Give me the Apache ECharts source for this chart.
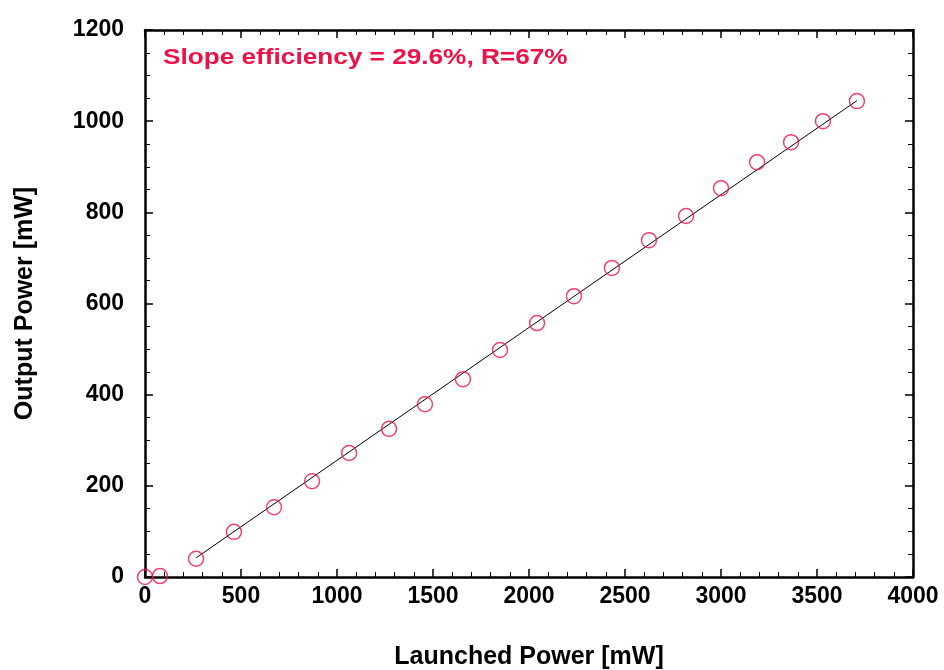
<!DOCTYPE html>
<html><head><meta charset="utf-8">
<script src="https://cdn.jsdelivr.net/npm/echarts@6/dist/echarts.min.js"></script>
<style>html,body{margin:0;padding:0;background:#fff}#c{width:944px;height:670px}</style>
</head><body><div id="c"></div>
<script>
const launched = [0, 78, 266, 463, 672, 870, 1063, 1271, 1458, 1656, 1849, 2042, 2234, 2432, 2625, 2818, 3000, 3188, 3365, 3531, 3708];
const output   = [0, 2, 40, 99, 153, 210, 272, 325, 379, 434, 498, 557, 616, 678, 739, 792, 853, 910, 954, 1000, 1044];
const fitX = [266, 3708];
const fitY = [42, 1045];
const xTicks = [0, 500, 1000, 1500, 2000, 2500, 3000, 3500, 4000];
const yTicks = [0, 200, 400, 600, 800, 1000, 1200];
const annotation = 'Slope efficiency = 29.6%, R=67%';

const F = '"Liberation Sans", Arial, sans-serif';
const red = '#ee1148';
const axisLine = {show:true, onZero:false, lineStyle:{color:'#000', width:2.5}};
const chart = echarts.init(document.getElementById('c'));
function xa(pos, labels){
  return {type:'value', position:pos, min:xTicks[0], max:xTicks[xTicks.length-1], interval:500,
    axisLine, axisTick:{show:true, inside:true, length:8, lineStyle:{color:'#000', width:1.5}},
    minorTick:{show:true, splitNumber:5, length:5, lineStyle:{color:'#000', width:1}},
    splitLine:{show:false},
    axisLabel:{show:labels, color:'#000', fontFamily:F, fontWeight:'bold', fontSize:23, margin:8, formatter:v=>String(v)},
    name: labels ? 'Launched Power [mW]' : '', nameLocation:'middle', nameGap:68,
    nameTextStyle:{color:'#000', fontFamily:F, fontWeight:'bold', fontSize:25}};
}
function ya(pos, labels){
  return {type:'value', position:pos, min:yTicks[0], max:yTicks[yTicks.length-1], interval:200,
    axisLine, axisTick:{show:true, inside:true, length:8, lineStyle:{color:'#000', width:1.5}},
    minorTick:{show:true, splitNumber:4, length:5, lineStyle:{color:'#000', width:1}},
    splitLine:{show:false},
    axisLabel:{show:labels, color:'#000', fontFamily:F, fontWeight:'bold', fontSize:23, margin:21, formatter:v=>String(v)},
    name: labels ? 'Output Power [mW]' : '', nameLocation:'middle', nameGap:107, nameRotate:90,
    nameTextStyle:{color:'#000', fontFamily:F, fontWeight:'bold', fontSize:25}};
}
chart.setOption({
  animation:false,
  backgroundColor:'#fff',
  grid:{left:145, right:31, top:30, bottom:93, outerBoundsMode:'none', containLabel:false},
  xAxis:[xa('bottom', true), xa('top', false)],
  yAxis:[ya('left', true), ya('right', false)],
  graphic:[{type:'text', x:163, y:47, scaleX:1.19, style:{text:annotation, fill:red, font:'bold 22px "Liberation Sans", Arial, sans-serif'}}],
  series:[
    {type:'line', data:fitX.map((x,i)=>[x, fitY[i]]), symbol:'none', lineStyle:{color:'#000', width:1}, z:2},
    {type:'scatter', data:launched.map((x,i)=>[x, output[i]]), symbol:'circle', symbolSize:15,
      itemStyle:{color:'rgba(0,0,0,0)', borderColor:red, borderWidth:1.5}, z:3}
  ]
});
</script></body></html>
